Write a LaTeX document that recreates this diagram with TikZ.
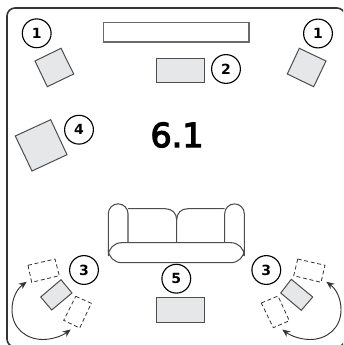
\documentclass[tikz,border=0pt]{standalone}
\usepackage{fontspec}
\setmainfont{DejaVu Sans}
\newfontfamily\numfont{DejaVu Sans Bold}
\newfontfamily\titlefont[FakeBold=3.5]{DejaVu Sans}
\usetikzlibrary{arrows.meta}
\definecolor{itemfill}{HTML}{E6E7E8}
\definecolor{itemline}{HTML}{4D4D4D}
\definecolor{screenline}{HTML}{6A6A6A}
\definecolor{wall}{HTML}{333333}
\tikzset{
  wallline/.style={draw=wall,line width=1.2pt,rounded corners=6pt},
  item/.style={draw=itemline,fill=itemfill,line width=0.75pt},
  screenbox/.style={draw=screenline,fill=white,line width=0.9pt},
  ghost/.style={draw=wall,line width=0.6pt,dash pattern=on 3pt off 2pt,fill=white},
  sofa/.style={draw=itemline,line width=0.8pt,fill=white,rounded corners=0pt},
  badge/.style={circle,draw=black,line width=0.85pt,fill=white,minimum size=21.6pt,inner sep=0pt,font=\numfont\fontsize{10.5pt}{12pt}\selectfont},
  swing/.style={draw=wall,line width=0.7pt,{Stealth[length=6pt,width=5pt]}-{Stealth[length=6pt,width=5pt]}},
}
\begin{document}
\begin{tikzpicture}[x=0.75pt,y=-0.75pt]
\useasboundingbox (0,0) rectangle (343,345);
\begin{scope}
\clip (0,0) rectangle (343,345);
\draw[wallline] (7,347) rectangle (345,8);
\end{scope}
% screen and centre speaker
\draw[screenbox] (103.5,22.5) rectangle (249,42);
\draw[item] (156,59) rectangle (204.7,83);
% speakers
\draw[item] (35,61) -- (61,48.3) -- (73.7,74) -- (47.3,86.7) -- cycle;
\draw[item] (299.3,48.3) -- (326,61) -- (313.7,86.7) -- (287.3,74) -- cycle;
\draw[item] (15.3,136) -- (50.7,119.7) -- (67,154.7) -- (32,171) -- cycle;
\draw[item] (156,297.7) rectangle (204.7,322);
% sofa
\draw[sofa] (128,208.7) -- (165,208.7) .. controls (172,208.7) and (176.7,213) .. (176.7,220) -- (176.7,243);
\draw[sofa] (176.7,220) .. controls (176.7,213) and (181,208.7) .. (188,208.7) -- (224.7,208.7);
\draw[sofa] (128,243) -- (128,213.7) arc[start angle=0,end angle=-180,radius=9.85] -- (108.3,252.7);
\draw[sofa] (224.7,243) -- (224.7,213.7) arc[start angle=180,end angle=360,radius=9.8] -- (244.3,252.7);
\draw[sofa,rounded corners=10pt] (108.3,242.7) rectangle (244.3,262.7);
% left rear
\draw[ghost] (28,265.3) -- (55,259) -- (59.3,275.7) -- (31.7,282.3) -- cycle;
\draw[ghost] (75.7,296.3) -- (91.3,303.3) -- (79.7,328) -- (63.7,320.3) -- cycle;
\draw[item] (40.7,297) -- (61,279.7) -- (72,293) -- (51.7,310) -- cycle;
\draw[swing] (26.7,281.7) .. controls (17,289) and (12,298) .. (12,310) .. controls (12,328) and (26,339.5) .. (43,339.5) .. controls (52,339.5) and (62,336) .. (70.7,329.5);
% right rear
\draw[ghost] (297.7,259) -- (325,265.3) -- (321,282.3) -- (293.7,275.7) -- cycle;
\draw[ghost] (261.3,303) -- (278,296) -- (289.3,320.7) -- (273.3,327.7) -- cycle;
\draw[item] (291.3,279.3) -- (312.7,297) -- (301.3,310.3) -- (280.7,293) -- cycle;
\draw[swing] (326.3,281.7) .. controls (336,289) and (341,298) .. (341,310) .. controls (341,328) and (327,339.5) .. (310,339.5) .. controls (301,339.5) and (291,336) .. (282.3,329.5);
% labels
\node[badge] (a) at (36.7,33.3) {1};
\node[badge] (b) at (318,33.5) {1};
\node[badge] (c) at (226,69) {2};
\node[badge] (d) at (79,129.7) {4};
\node[badge] (e) at (84,270) {3};
\node[badge] (f) at (266.3,270) {3};
\node[badge] (g) at (176.3,278.7) {5};
\node[inner sep=0pt,font=\titlefont\fontsize{25pt}{30pt}\selectfont] (t) at (177,135) {6.1};
\end{tikzpicture}
\end{document}
